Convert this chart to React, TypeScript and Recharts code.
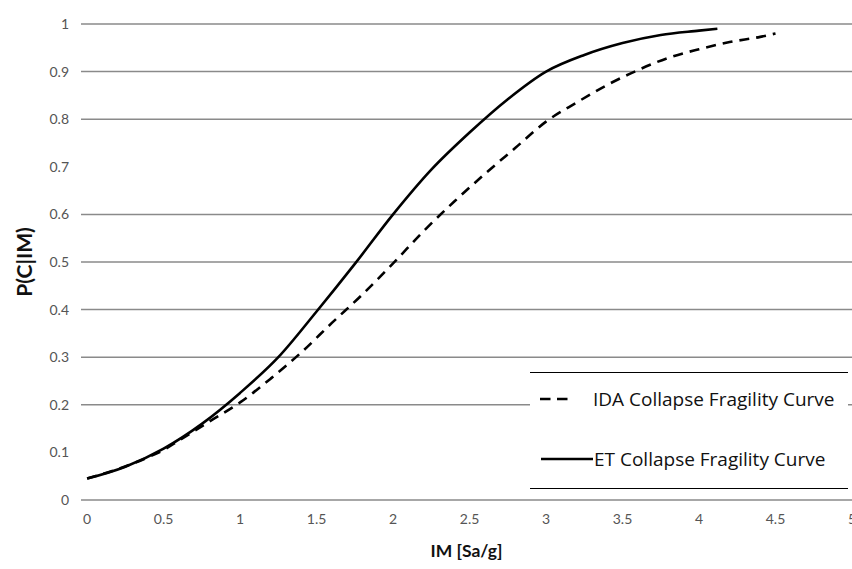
import React from 'react';
import { LineChart, Line, XAxis, YAxis, ReferenceLine, Label } from 'recharts';

const xTicks = [0, 0.5, 1, 1.5, 2, 2.5, 3, 3.5, 4, 4.5, 5];
const yTicks = [0, 0.1, 0.2, 0.3, 0.4, 0.5, 0.6, 0.7, 0.8, 0.9, 1];
const gridValues = [0, 0.2, 0.3, 0.4, 0.5, 0.6, 0.8, 0.9, 1];

const idaIM = [0, 0.2, 0.4, 0.5, 0.6, 0.8, 1.0, 1.2, 1.4, 1.6, 1.8, 2.0, 2.2, 2.4, 2.6, 2.8, 3.0, 3.2, 3.4, 3.6, 3.8, 4.0, 4.2, 4.4, 4.5];
const idaP = [0.045, 0.065, 0.09, 0.105, 0.125, 0.165, 0.205, 0.255, 0.31, 0.372, 0.432, 0.497, 0.565, 0.627, 0.685, 0.74, 0.795, 0.835, 0.872, 0.903, 0.929, 0.947, 0.962, 0.973, 0.98];

const etIM = [0, 0.25, 0.5, 0.75, 1.0, 1.25, 1.5, 1.75, 2.0, 2.25, 2.5, 2.75, 3.0, 3.25, 3.5, 3.75, 4.0, 4.12];
const etP = [0.045, 0.07, 0.108, 0.16, 0.225, 0.3, 0.396, 0.496, 0.6, 0.694, 0.772, 0.842, 0.9, 0.935, 0.96, 0.977, 0.986, 0.99];

const seriesNames = ['IDA Collapse Fragility Curve', 'ET Collapse Fragility Curve'];

const idaData = idaIM.map((x, i) => ({ x, p: idaP[i] }));
const etData = etIM.map((x, i) => ({ x, p: etP[i] }));

const FONT = 'Lato, "Open Sans", sans-serif';
const LEGEND_FONT = '"Open Sans", Lato, sans-serif';

const fmtY = (v: number) => (v === 0 ? '0' : v === 1 ? '1' : v.toFixed(1));

export default function App() {
  return (
    <div style={{ position: 'absolute', left: 0, top: 0, width: 852, height: 569, background: '#fff', fontFamily: FONT }}>
      <LineChart width={852} height={569} margin={{ top: 24, right: 0, bottom: 0, left: 0 }}>
        {gridValues.map((v) => (
          <ReferenceLine key={`g${v}`} y={v} stroke="#8a8a8a" strokeWidth={1.5} />
        ))}
        <XAxis
          type="number"
          dataKey="x"
          domain={[-0.04, 5]}
          ticks={xTicks}
          interval={0}
          allowDataOverflow
          height={69}
          axisLine={false}
          tickLine={false}
          tickSize={0}
          tickMargin={14}
          tick={{ fill: '#555', fontSize: 14, fontFamily: FONT }}
        >
          <Label
            value="IM [Sa/g]"
            position="insideBottom"
            offset={12}
            style={{ fill: '#111', fontSize: 17.5, fontWeight: 700, fontFamily: FONT }}
          />
        </XAxis>
        <YAxis
          type="number"
          domain={[0, 1]}
          ticks={yTicks}
          interval={0}
          width={81}
          axisLine={false}
          tickLine={false}
          tickSize={0}
          tickMargin={12}
          tickFormatter={fmtY}
          tick={{ fill: '#555', fontSize: 14, fontFamily: FONT }}
        >
          <Label
            content={({ viewBox }: any) => {
              const cx = viewBox.x + 23;
              const cy = viewBox.y + viewBox.height / 2;
              return (
                <text
                  x={cx}
                  y={cy}
                  transform={`rotate(-90 ${cx} ${cy})`}
                  textAnchor="middle"
                  dominantBaseline="central"
                  style={{ fill: '#111', fontSize: 21, fontWeight: 700, fontFamily: FONT }}
                >
                  P(C|IM)
                </text>
              );
            }}
          />
        </YAxis>
        <Line
          data={idaData}
          dataKey="p"
          name={seriesNames[0]}
          type="monotone"
          stroke="#000"
          strokeWidth={2.6}
          strokeDasharray="10 7"
          dot={false}
          isAnimationActive={false}
        />
        <Line
          data={etData}
          dataKey="p"
          name={seriesNames[1]}
          type="monotone"
          stroke="#000"
          strokeWidth={2.6}
          dot={false}
          isAnimationActive={false}
        />
      </LineChart>
      <div
        style={{
          position: 'absolute',
          left: 530,
          top: 372,
          width: 318,
          height: 115,
          background: '#fff',
          borderTop: '1.5px solid #000',
          borderBottom: '1.5px solid #000',
          fontFamily: LEGEND_FONT,
        }}
      >
        <div style={{ position: 'absolute', left: 10, top: 13, height: 26, display: 'flex', alignItems: 'center' }}>
          <svg width={28} height={26} style={{ display: 'block' }}>
            <line x1={0} y1={13} x2={28} y2={13} stroke="#000" strokeWidth={2.6} strokeDasharray="10.5 6.5" />
          </svg>
          <span style={{ marginLeft: 25, fontSize: 19, lineHeight: '26px', color: '#111', whiteSpace: 'nowrap' }}>{seriesNames[0]}</span>
        </div>
        <div style={{ position: 'absolute', left: 11, top: 73, height: 26, display: 'flex', alignItems: 'center' }}>
          <svg width={52} height={26} style={{ display: 'block' }}>
            <line x1={0} y1={13} x2={52} y2={13} stroke="#000" strokeWidth={2.6} />
          </svg>
          <span style={{ marginLeft: 1, fontSize: 19, lineHeight: '26px', color: '#111', whiteSpace: 'nowrap' }}>{seriesNames[1]}</span>
        </div>
      </div>
    </div>
  );
}
